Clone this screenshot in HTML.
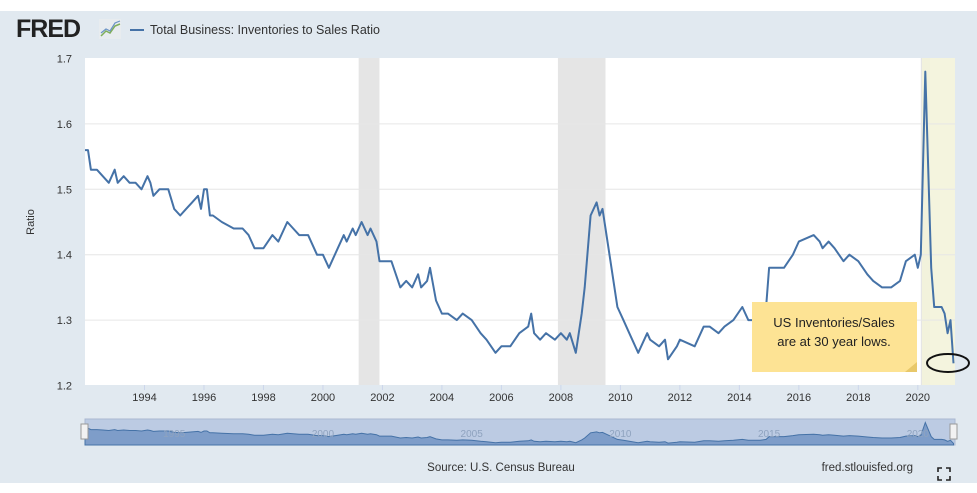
<!DOCTYPE html>
<html><head><meta charset="utf-8"><style>
body{margin:0;background:#fff;font-family:"Liberation Sans",sans-serif;}
svg{display:block}
</style></head><body>
<svg id="c" width="977" height="493">
<rect x="0" y="11" width="977" height="472" fill="#e1e9f0"/>
<rect x="85" y="58" width="870" height="327" fill="#fff"/>
<g id="rec"></g><g id="grid"></g><g id="series"></g><g id="axes"></g>
<text x="16" y="37" font-size="25" font-weight="bold" fill="#222" letter-spacing="-1">FRED</text>
<g><rect x="99" y="19" width="22" height="20" fill="#e8ecef"/><polyline points="101,36 106,31 110,33 115,26 120,24" fill="none" stroke="#7fae5a" stroke-width="1.5"/><polyline points="101,33 106,29 110,31 115,23 120,21" fill="none" stroke="#6b93c5" stroke-width="1.2"/></g>
<line x1="130" y1="30" x2="144" y2="30" stroke="#4572a7" stroke-width="2"/>
<text x="150" y="34" font-size="12.5" fill="#333">Total Business: Inventories to Sales Ratio</text>
<text transform="translate(34,222) rotate(-90)" font-size="11" fill="#333" text-anchor="middle">Ratio</text>
<g>
<rect x="752" y="302" width="165" height="70" fill="#fde394"/>
<polygon points="905,372 917,372 917,362" fill="#e8c86a"/>
<text x="834" y="327" font-size="13" fill="#222" text-anchor="middle">US Inventories/Sales</text>
<text x="834" y="346" font-size="13" fill="#222" text-anchor="middle">are at 30 year lows.</text>
</g>
<ellipse cx="948" cy="363" rx="21" ry="9" fill="none" stroke="#111" stroke-width="2"/>
<g id="nav"></g>
<text x="501" y="471" font-size="11.5" fill="#333" text-anchor="middle">Source: U.S. Census Bureau</text>
<text x="913" y="471" font-size="11.5" fill="#333" text-anchor="end">fred.stlouisfed.org</text>
<g stroke="#222" stroke-width="1.6" fill="none"><path d="M938,472v-4h4M946,468h4v4M950,476v4h-4M942,480h-4v-4"/></g>
</svg>
<script>
const dates=[1992.0,1992.1,1992.2,1992.4,1992.6,1992.8,1993.0,1993.1,1993.3,1993.5,1993.7,1993.9,1994.1,1994.2,1994.3,1994.5,1994.8,1995.0,1995.2,1995.4,1995.6,1995.8,1995.9,1996.0,1996.1,1996.2,1996.3,1996.6,1997.0,1997.3,1997.5,1997.7,1998.0,1998.3,1998.5,1998.8,1999.0,1999.2,1999.5,1999.8,2000.0,2000.2,2000.3,2000.5,2000.7,2000.8,2001.0,2001.1,2001.3,2001.5,2001.6,2001.8,2001.9,2002.3,2002.6,2002.8,2003.0,2003.2,2003.3,2003.5,2003.6,2003.8,2004.0,2004.2,2004.5,2004.7,2005.0,2005.3,2005.5,2005.8,2006.0,2006.3,2006.6,2006.9,2007.0,2007.1,2007.3,2007.5,2007.8,2008.0,2008.2,2008.3,2008.5,2008.7,2008.8,2009.0,2009.2,2009.3,2009.4,2009.6,2009.9,2010.1,2010.3,2010.6,2010.9,2011.0,2011.3,2011.5,2011.6,2011.9,2012.0,2012.5,2012.8,2013.0,2013.3,2013.5,2013.8,2014.1,2014.3,2014.7,2014.9,2015.0,2015.5,2015.8,2016.0,2016.5,2016.7,2016.8,2017.0,2017.2,2017.5,2017.7,2018.0,2018.3,2018.5,2018.8,2019.1,2019.4,2019.6,2019.9,2020.0,2020.1,2020.25,2020.45,2020.55,2020.8,2020.9,2021.0,2021.1,2021.2];
const values=[1.56,1.56,1.53,1.53,1.52,1.51,1.53,1.51,1.52,1.51,1.51,1.50,1.52,1.51,1.49,1.50,1.50,1.47,1.46,1.47,1.48,1.49,1.47,1.50,1.50,1.46,1.46,1.45,1.44,1.44,1.43,1.41,1.41,1.43,1.42,1.45,1.44,1.43,1.43,1.40,1.40,1.38,1.39,1.41,1.43,1.42,1.44,1.43,1.45,1.43,1.44,1.42,1.39,1.39,1.35,1.36,1.35,1.37,1.35,1.36,1.38,1.33,1.31,1.31,1.30,1.31,1.30,1.28,1.27,1.25,1.26,1.26,1.28,1.29,1.31,1.28,1.27,1.28,1.27,1.28,1.27,1.28,1.25,1.31,1.35,1.46,1.48,1.46,1.47,1.41,1.32,1.30,1.28,1.25,1.28,1.27,1.26,1.27,1.24,1.26,1.27,1.26,1.29,1.29,1.28,1.29,1.30,1.32,1.30,1.30,1.32,1.38,1.38,1.40,1.42,1.43,1.42,1.41,1.42,1.41,1.39,1.40,1.39,1.37,1.36,1.35,1.35,1.36,1.39,1.40,1.38,1.40,1.68,1.38,1.32,1.32,1.31,1.28,1.30,1.234];
const yTicks=[1.2,1.3,1.4,1.5,1.6,1.7];
const xTicks=[1994,1996,1998,2000,2002,2004,2006,2008,2010,2012,2014,2016,2018,2020];
const recessionStarts=[2001.2,2007.9,2020.1];
const recessionEnds=[2001.9,2009.5,2020.4];
const navLabels=[1995,2000,2005,2010,2015,2020];
const NS='http://www.w3.org/2000/svg';
const X0=85,X1=955,T0=1992.0,T1=2021.25;
const x=t=>X0+(t-T0)/(T1-T0)*(X1-X0);
const y=v=>58.5+(1.7-v)/0.5*327;
function mk(p,tag,a){const e=document.createElementNS(NS,tag);for(const k in a)e.setAttribute(k,a[k]);document.getElementById(p).appendChild(e);return e;}
recessionStarts.forEach((s,i)=>{const e=mk('rec','rect',{x:x(s),y:58,width:x(recessionEnds[i])-x(s),height:327,fill:'#e5e5e5'});

});
const hl=mk('rec','rect',{x:922,y:58,width:33,height:327,fill:'#f3f3da',opacity:0.9});


yTicks.forEach(v=>{if(v>1.2&&v<1.7){const g=mk('grid','line',{x1:X0,x2:X1,y1:y(v),y2:y(v),stroke:'#e6e6e6'});

}
const t=mk('axes','text',{x:72,y:y(v)+4,'font-size':11,fill:'#333','text-anchor':'end'});t.textContent=v.toFixed(1);

});
xTicks.forEach(yr=>{const t=mk('axes','text',{x:x(yr),y:401,'font-size':11,fill:'#333','text-anchor':'middle'});t.textContent=yr;


const l=mk('axes','line',{x1:x(yr),x2:x(yr),y1:385,y2:390,stroke:'#ccd6eb'});

});
const pts=dates.map((d,i)=>x(d).toFixed(1)+','+y(values[i]).toFixed(1)).join(' ');
const line=mk('series','polyline',{points:pts,fill:'none',stroke:'#4572a7','stroke-width':2,'stroke-linejoin':'round'});


const NY0=419,NY1=445;const ny=v=>NY1-(v-1.2)/0.5*(NY1-NY0)*0.9;
const nb=mk('nav','rect',{x:85,y:NY0,width:870,height:NY1-NY0,fill:'#bccbe3',stroke:'#aab8d0'});


const area=mk('nav','polygon',{points:x(dates[0])+','+NY1+' '+dates.map((d,i)=>x(d).toFixed(1)+','+ny(values[i]).toFixed(1)).join(' ')+' '+x(dates[dates.length-1])+','+NY1,fill:'#7e9dc9',stroke:'#4572a7','stroke-width':1});


navLabels.forEach(yr=>{const t=mk('nav','text',{x:x(yr),y:437,'font-size':10,fill:'#8fa3bf','text-anchor':'middle'});t.textContent=yr;

});
[84,953].forEach((hx,i)=>{const h=mk('nav','rect',{x:hx-3,y:424,width:7,height:15,fill:'#f2f2f2',stroke:'#999'});

});
</script>
</body></html>
